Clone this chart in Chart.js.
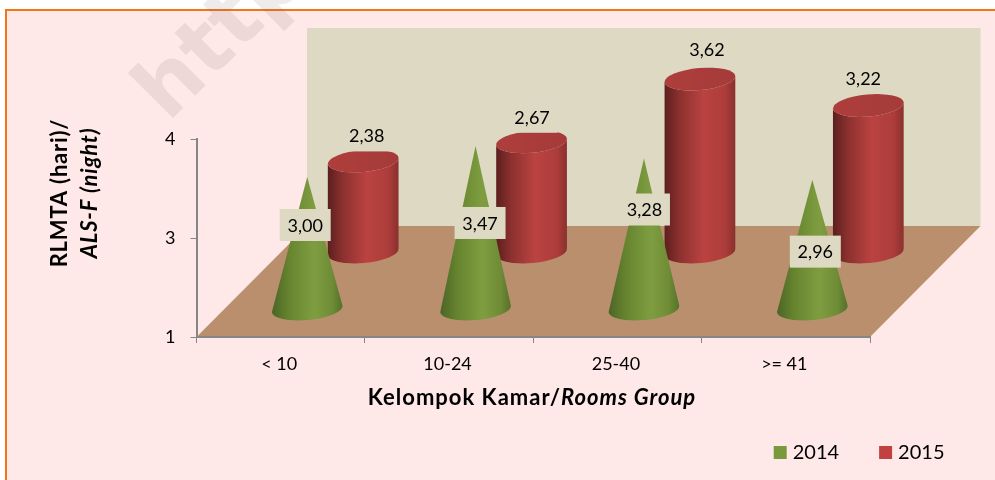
<!DOCTYPE html>
<html>
<head>
<meta charset="utf-8">
<title>RLMTA</title>
<script src="https://cdn.jsdelivr.net/npm/chart.js@4"></script>
<style>
  html, body { margin: 0; padding: 0; background: #fff; overflow: hidden; }
  #frame { position: absolute; left: 5px; top: 9px; width: 995px; height: 480px; background: #FFE9E8; border: 2px solid #F27518; }
  #wrap { position: absolute; left: 0; top: 0; width: 995px; height: 480px; }
</style>
</head>
<body>
<div id="frame"></div>
<div id="wrap"><canvas id="chart" width="995" height="480"></canvas></div>
<script>
const categories = ['< 10', '10-24', '25-40', '>= 41'];
const values2014 = [3.00, 3.47, 3.28, 2.96];
const values2015 = [2.38, 2.67, 3.62, 3.22];
const seriesNames = ['2014', '2015'];
const yTickStep = 1.5;

// where each value label sits, relative to the top of its mark (moved by hand in the original)
const labelShift2014 = [[-2, 48], [4.5, 77], [0.5, 51], [3, 72]];
const labelShift2015 = [[3.5, -25.5], [0.5, -25], [7, -30], [-5, -27.5]];

const FONT = 'Lato, Carlito, sans-serif';
const depth = { x: 110.5, y: 111 };         // floor depth of the fake 3D box
const rowFront = { x: 26.5, y: 28 };        // cones
const rowBack = { x: 82.5, y: 85 };         // cylinders
const markRadius = 35.5, ellipseRy = 11, tilt = -0.09;

function horizontalGradient(ctx, x0, x1, stops) {
  const g = ctx.createLinearGradient(x0, 0, x1, 0);
  stops.forEach(s => g.addColorStop(s[0], s[1]));
  return g;
}

function drawCone(ctx, cx, baseY, tipY) {
  ctx.fillStyle = horizontalGradient(ctx, cx - markRadius, cx + markRadius, [
    [0, '#4B6526'], [0.25, '#67852F'], [0.6, '#7F9D40'], [0.85, '#6F8C36'], [1, '#55712A']
  ]);
  ctx.beginPath();
  ctx.moveTo(cx, tipY);
  ctx.ellipse(cx, baseY, markRadius, ellipseRy, tilt, 0, Math.PI);
  ctx.closePath();
  ctx.fill();
}

function drawCylinder(ctx, cx, baseY, topY) {
  ctx.fillStyle = horizontalGradient(ctx, cx - markRadius, cx + markRadius, [
    [0, '#5A1F1E'], [0.2, '#8A302E'], [0.55, '#BA4341'], [0.85, '#AD3D3B'], [1, '#8A302E']
  ]);
  ctx.beginPath();
  ctx.ellipse(cx, baseY, markRadius, ellipseRy, tilt, 0, Math.PI);
  ctx.ellipse(cx, topY, markRadius, ellipseRy, tilt, Math.PI, 0, true);
  ctx.closePath();
  ctx.fill();
  ctx.fillStyle = horizontalGradient(ctx, cx - markRadius, cx + markRadius, [
    [0, '#AE3E3C'], [1, '#A53B39']
  ]);
  ctx.beginPath();
  ctx.ellipse(cx, topY, markRadius, ellipseRy, tilt, 0, Math.PI * 2);
  ctx.fill();
}

// draws text pieces with different fonts one after the other, centred on 0,0
function mixedText(ctx, pieces) {
  let total = 0;
  pieces.forEach(p => { ctx.font = p.font; total += ctx.measureText(p.text).width; });
  let x = -total / 2;
  ctx.textAlign = 'left';
  ctx.textBaseline = 'middle';
  pieces.forEach(p => {
    ctx.font = p.font;
    ctx.fillText(p.text, x, 0);
    x += ctx.measureText(p.text).width;
  });
}

const box3d = {
  id: 'box3d',
  afterLayout(chart) {
    // the legend is in the bottom right corner, out of line with the plot area
    chart.legend.right = 988.5;
    chart.legend.top = 398.5;
  },
  beforeDraw(chart) {
    const { ctx, chartArea: a } = chart;
    ctx.save();
    ctx.fillStyle = '#DDD9C3';
    ctx.fillRect(a.left + depth.x, a.top - depth.y, a.right - a.left, a.bottom - a.top);
    ctx.fillStyle = '#BA8F6E';
    ctx.beginPath();
    ctx.moveTo(a.left, a.bottom);
    ctx.lineTo(a.right, a.bottom);
    ctx.lineTo(a.right + depth.x, a.bottom - depth.y);
    ctx.lineTo(a.left + depth.x, a.bottom - depth.y);
    ctx.closePath();
    ctx.fill();
    ctx.restore();
  },
  beforeDatasetDraw(chart, args) {
    const { ctx, scales: { x, y } } = chart;
    const values = chart.data.datasets[args.index].data;
    const row = args.index === 0 ? rowFront : rowBack;
    ctx.save();
    values.forEach((v, i) => {
      const cx = x.getPixelForValue(i) + row.x;
      const top = y.getPixelForValue(v) - row.y;
      const base = y.getPixelForValue(y.min) - row.y;
      if (args.index === 0) drawCone(ctx, cx, base, top);
      else drawCylinder(ctx, cx, base, top);
    });
    ctx.restore();
    return false;
  },
  afterDatasetsDraw(chart) {
    const { ctx, scales: { x, y } } = chart;
    ctx.save();
    chart.data.datasets.forEach((ds, d) => {
      const row = d === 0 ? rowFront : rowBack;
      const shift = d === 0 ? labelShift2014 : labelShift2015;
      ds.data.forEach((v, i) => {
        const cx = x.getPixelForValue(i) + row.x + shift[i][0];
        const cy = y.getPixelForValue(v) - row.y + shift[i][1];
        ctx.fillStyle = '#DDD9C3';
        ctx.fillRect(cx - 25.5, cy - 16, 51, 32);
        ctx.fillStyle = '#000';
        ctx.font = '18px ' + FONT;
        ctx.textAlign = 'center';
        ctx.textBaseline = 'middle';
        ctx.fillText(v.toFixed(2).replace('.', ','), cx, cy + 1);
      });
    });
    ctx.restore();
  },
  afterDraw(chart) {
    const { ctx } = chart;
    ctx.save();
    ctx.fillStyle = '#000';
    // axis titles, they mix bold and bold italic
    ctx.letterSpacing = '1px';
    ctx.translate(532, 398);
    mixedText(ctx, [
      { text: 'Kelompok Kamar/', font: 'bold 22px ' + FONT },
      { text: 'Rooms Group', font: 'italic bold 22px ' + FONT }
    ]);
    ctx.letterSpacing = '0.8px';
    ctx.setTransform(1, 0, 0, 1, 0, 0);
    ctx.translate(60, 193);
    ctx.rotate(-Math.PI / 2);
    mixedText(ctx, [{ text: 'RLMTA (hari)/', font: 'bold 22px ' + FONT }]);
    ctx.setTransform(1, 0, 0, 1, 0, 0);
    ctx.translate(90, 193);
    ctx.rotate(-Math.PI / 2);
    mixedText(ctx, [{ text: 'ALS-F (night)', font: 'italic bold 22px ' + FONT }]);
    ctx.letterSpacing = '0px';
    // watermark across the top
    ctx.setTransform(1, 0, 0, 1, 0, 0);
    ctx.translate(168, 123);
    ctx.rotate(-Math.PI / 4);
    ctx.font = 'bold 84px "DejaVu Sans"';
    ctx.textAlign = 'left';
    ctx.textBaseline = 'alphabetic';
    ctx.fillStyle = 'rgba(120, 100, 100, 0.13)';
    ctx.fillText('http', 0, 0);
    ctx.restore();
  }
};

new Chart(document.getElementById('chart'), {
  type: 'bar',
  data: {
    labels: categories,
    datasets: [
      { label: seriesNames[0], data: values2014, backgroundColor: '#789A3C', borderColor: '#789A3C', borderWidth: 8 },
      { label: seriesNames[1], data: values2015, backgroundColor: '#C0413F', borderColor: '#C0413F', borderWidth: 8 }
    ]
  },
  options: {
    responsive: false,
    animation: false,
    layout: { padding: { left: 6, top: 139, right: 125, bottom: 0 } },
    plugins: {
      tooltip: { enabled: false },
      legend: {
        position: 'bottom',
        align: 'end',
        onClick: null,
        labels: { boxWidth: 5, boxHeight: 5, padding: 44, color: '#000', font: { family: FONT, size: 20 } }
      }
    },
    scales: {
      x: {
        grid: { offset: true, drawOnChartArea: false, tickLength: 6, color: '#868686' },
        border: { color: '#868686', width: 2 },
        ticks: { color: '#000', padding: 10, maxRotation: 0, labelOffset: -1.5, font: { family: FONT, size: 18 } },
        afterFit(scale) { scale.height = 69; }
      },
      y: {
        min: 1,
        max: 4,
        grid: { drawOnChartArea: false, tickLength: 6, color: '#868686' },
        border: { color: '#868686', width: 2 },
        ticks: {
          stepSize: yTickStep,
          color: '#000',
          padding: 15,
          font: { family: FONT, size: 18 },
          callback: v => String(Math.round(v))
        },
        afterFit(scale) { scale.width = 190.5; }
      }
    }
  },
  plugins: [box3d]
});
</script>
</body>
</html>
